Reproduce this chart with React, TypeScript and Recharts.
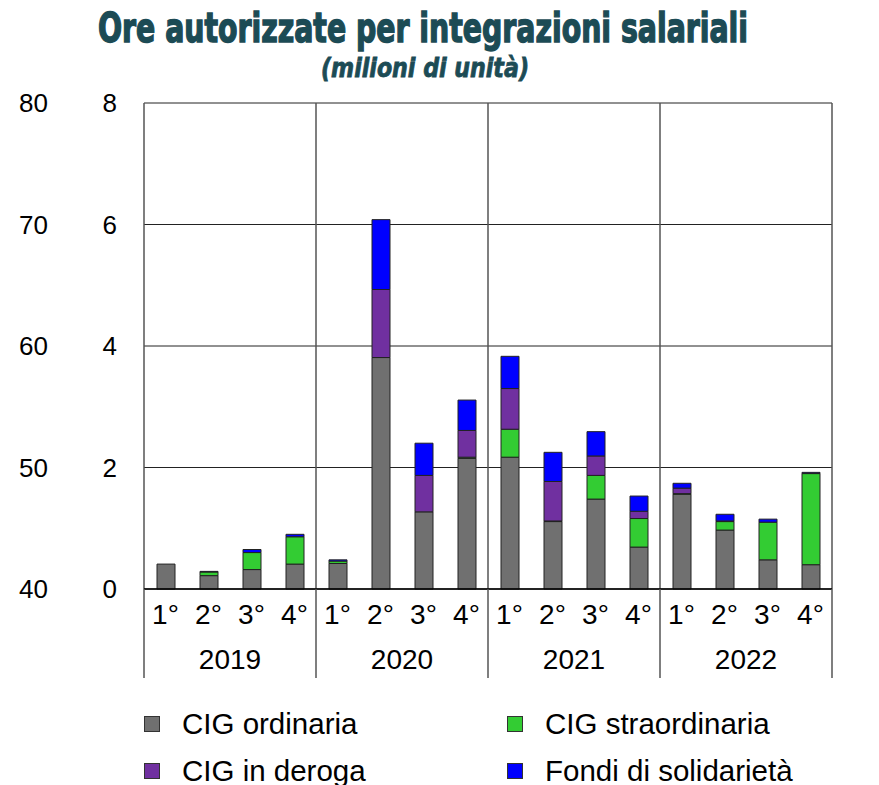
import React from "react";
import { ComposedChart, Bar, XAxis, YAxis, CartesianGrid } from "recharts";

const years = ["2019", "2020", "2021", "2022"];
const quarters = ["1°", "2°", "3°", "4°"];
const leftOuterTicks = [40, 50, 60, 70, 80];
const yTicks = [0, 2, 4, 6, 8];

const ordinaria = [0.41, 0.22, 0.32, 0.41, 0.42, 3.81, 1.27, 2.15, 2.17, 1.11, 1.48, 0.69, 1.56, 0.97, 0.48, 0.4];
const straordinaria = [0, 0.06, 0.28, 0.45, 0.04, 0, 0, 0.02, 0.46, 0.01, 0.39, 0.47, 0.01, 0.14, 0.62, 1.5];
const deroga = [0, 0, 0, 0, 0, 1.12, 0.6, 0.44, 0.67, 0.65, 0.32, 0.12, 0.09, 0.01, 0, 0];
const solidarieta = [0, 0.01, 0.05, 0.04, 0.02, 1.15, 0.53, 0.5, 0.53, 0.48, 0.4, 0.25, 0.08, 0.11, 0.05, 0.02];

const series = [
  { key: "ordinaria", name: "CIG ordinaria", color: "#707070" },
  { key: "straordinaria", name: "CIG straordinaria", color: "#33cc33" },
  { key: "deroga", name: "CIG in deroga", color: "#7030a0" },
  { key: "solidarieta", name: "Fondi di solidarietà", color: "#0000ff" },
];

const data = ordinaria.map((v, i) => ({
  id: `${years[Math.floor(i / 4)]}-${i % 4}`,
  quarter: quarters[i % 4],
  year: years[Math.floor(i / 4)],
  ordinaria: v,
  straordinaria: straordinaria[i],
  deroga: deroga[i],
  solidarieta: solidarieta[i],
}));

const FONT = "'Liberation Sans', Arial, sans-serif";
const TITLE_FONT = "'DejaVu Sans Condensed', 'DejaVu Sans', sans-serif";
const YEAR_MARGIN = 17;
const QUARTER_AXIS_H = 43;
const YEAR_AXIS_H = 46;

const LeftTick = (props: any) => {
  const { x, y, payload, index } = props;
  return (
    <g>
      <text x={x} y={y} dy="0.355em" textAnchor="end" fontSize={26} fontFamily={FONT} fill="#000">
        {payload.value}
      </text>
      <text x={x - 69} y={y} dy="0.355em" textAnchor="end" fontSize={26} fontFamily={FONT} fill="#000">
        {leftOuterTicks[index]}
      </text>
    </g>
  );
};

const QuarterTick = (props: any) => {
  const { x, y, index } = props;
  return (
    <text x={x} y={y} dy="0.71em" textAnchor="middle" fontSize={28} fontFamily={FONT} fill="#000">
      {data[index] ? data[index].quarter : ""}
    </text>
  );
};

const YearTick = (props: any) => {
  const { x, y, payload, index } = props;
  const half = payload && payload.offset ? payload.offset : 0;
  const top = y - YEAR_MARGIN - QUARTER_AXIS_H;
  const bottom = y - YEAR_MARGIN + YEAR_AXIS_H;
  return (
    <g>
      <line x1={x - half} x2={x - half} y1={top} y2={bottom} stroke="#555" strokeWidth={1.5} />
      {index === years.length - 1 ? (
        <line x1={x + half} x2={x + half} y1={top} y2={bottom} stroke="#555" strokeWidth={1.5} />
      ) : null}
      <text x={x} y={y} dy="0.71em" textAnchor="middle" fontSize={28} fontFamily={FONT} fill="#000">
        {payload.value}
      </text>
    </g>
  );
};

export default function App() {
  return (
    <div style={{ position: "absolute", left: 0, top: 0, width: 879, height: 785, background: "#fff" }}>
      <svg width={879} height={100} style={{ position: "absolute", left: 0, top: 0 }}>
        <text
          x={423}
          y={42}
          textAnchor="middle"
          fontSize={40}
          fontWeight="bold"
          fontFamily={TITLE_FONT}
          fontStretch="condensed"
          fill="#1c4b55"
          stroke="#1c4b55"
          strokeWidth={1.4}
          textLength={650}
          lengthAdjust="spacingAndGlyphs"
        >
          Ore autorizzate per integrazioni salariali
        </text>
        <text
          x={425}
          y={77}
          textAnchor="middle"
          fontSize={27}
          fontWeight="bold"
          fontStyle="italic"
          fontFamily={TITLE_FONT}
          fontStretch="condensed"
          fill="#1c4b55"
          stroke="#1c4b55"
          strokeWidth={0.8}
          textLength={208}
          lengthAdjust="spacingAndGlyphs"
        >
          (milioni di unità)
        </text>
      </svg>
      <div style={{ position: "absolute", left: 0, top: 0 }}>
        <ComposedChart
          width={879}
          height={785}
          data={data}
          margin={{ top: 103, right: 0, left: 0, bottom: 107 }}
          barCategoryGap={0}
        >
          <CartesianGrid yAxisId="left" vertical={false} stroke="#222" strokeWidth={1} />
          <CartesianGrid
            yAxisId="left"
            horizontal={false}
            stroke="#555"
            strokeWidth={1.5}
            verticalCoordinatesGenerator={({ offset }: any) =>
              years.map((_, k) => offset.left + (offset.width * (k + 1)) / years.length).concat([offset.left])
            }
          />
          <XAxis
            dataKey="id"
            height={QUARTER_AXIS_H}
            interval={0}
            tickSize={0}
            tickMargin={15}
            axisLine={{ stroke: "#000", strokeWidth: 1.5 }}
            tickLine={false}
            tick={<QuarterTick />}
          />
          <XAxis
            xAxisId="year"
            dataKey="year"
            allowDuplicatedCategory={false}
            height={YEAR_AXIS_H}
            interval={0}
            tickSize={0}
            tickMargin={YEAR_MARGIN}
            axisLine={false}
            tickLine={false}
            tick={<YearTick />}
          />
          <YAxis
            yAxisId="left"
            width={144}
            domain={[0, 8]}
            ticks={yTicks}
            interval={0}
            tickSize={0}
            tickMargin={27}
            axisLine={false}
            tickLine={false}
            tick={<LeftTick />}
          />
          <YAxis
            yAxisId="right"
            orientation="right"
            width={47}
            domain={[0, 8]}
            ticks={yTicks}
            interval={0}
            tickSize={0}
            tickMargin={26}
            axisLine={false}
            tickLine={false}
            tick={{ fontSize: 26, fontFamily: FONT, fill: "#000" }}
          />
          {series.map((s) => (
            <Bar
              key={s.key}
              dataKey={s.key}
              name={s.name}
              stackId="a"
              yAxisId="left"
              fill={s.color}
              stroke="#222"
              strokeWidth={1}
              barSize={18}
              isAnimationActive={false}
            />
          ))}
        </ComposedChart>
      </div>
      <div style={{ position: "absolute", left: 0, top: 700, width: 879, fontFamily: FONT, fontSize: 29.5, color: "#000" }}>
        {[
          [series[0], series[1]],
          [series[2], series[3]],
        ].map((row, r) => (
          <div key={r} style={{ position: "absolute", top: r * 47, left: 0, width: 879, height: 47 }}>
            {row.map((s, c) => (
              <div
                key={s.key}
                style={{ position: "absolute", left: c === 0 ? 144 : 507, top: 0, height: 47, display: "flex", alignItems: "center" }}
              >
                <span
                  style={{ display: "inline-block", width: 14, height: 14, background: s.color, border: "1px solid #333", marginRight: 22 }}
                />
                <span>{s.name}</span>
              </div>
            ))}
          </div>
        ))}
      </div>
    </div>
  );
}
